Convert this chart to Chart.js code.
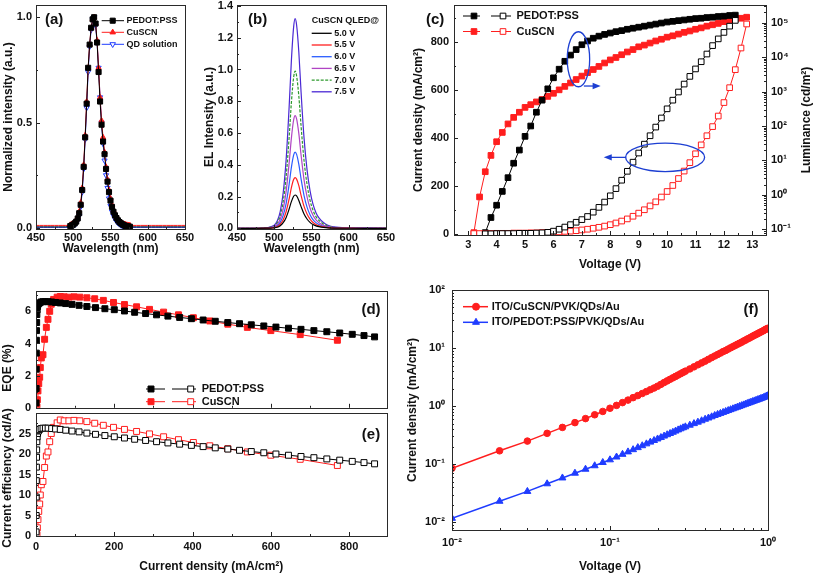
<!DOCTYPE html>
<html><head><meta charset="utf-8">
<script src="https://cdn.jsdelivr.net/npm/chart.js@4.4.1/dist/chart.umd.min.js"></script>
<style>html,body{margin:0;padding:0;background:#fff;width:813px;height:577px;overflow:hidden;position:relative}canvas{position:absolute}</style>
</head><body>
<script>
// ================= DATA =================
// (a) normalized PL/EL spectra
const wlA = [450,455,460,465,470,475,480,485,490,
 492,494,496,498,500,502,504,506,508,510,512,514,516,518,520,522,524,526,528,530,532,534,536,538,540,542,544,546,548,550,552,554,556,558,560,562,564,566,568,570,572,574,576,578,580,
 585,590,595,600,605,610,615,620,625,630,635,640,645,650];
const pedotA = [0.005,0.005,0.005,0.005,0.005,0.005,0.005,0.005,0.005,
 0.006,0.007,0.009,0.012,0.016,0.022,0.03,0.045,0.07,0.11,0.18,0.29,0.43,0.59,0.76,0.87,0.95,0.99,1.0,0.97,0.88,0.74,0.60,0.49,0.41,0.35,0.28,0.22,0.17,0.13,0.10,0.077,0.06,0.047,0.036,0.028,0.022,0.017,0.013,0.01,0.008,0.007,0.006,0.006,0.005,
 0.005,0.005,0.005,0.005,0.005,0.005,0.005,0.005,0.005,0.005,0.005,0.005,0.005,0.005];
const cuscnA = [0.012,0.012,0.012,0.012,0.012,0.012,0.012,0.012,0.012,
 0.012,0.013,0.015,0.018,0.022,0.028,0.037,0.052,0.078,0.12,0.19,0.30,0.44,0.60,0.76,0.87,0.95,0.99,1.0,0.97,0.89,0.76,0.62,0.51,0.43,0.36,0.29,0.23,0.18,0.14,0.11,0.085,0.067,0.053,0.042,0.034,0.028,0.023,0.019,0.017,0.015,0.014,0.013,0.013,0.012,
 0.012,0.012,0.012,0.012,0.012,0.012,0.012,0.012,0.012,0.012,0.012,0.012,0.012,0.012];
const qdA = [0.003,0.003,0.003,0.003,0.003,0.003,0.003,0.003,0.003,
 0.003,0.004,0.005,0.007,0.01,0.015,0.022,0.035,0.058,0.1,0.17,0.28,0.42,0.57,0.74,0.86,0.94,0.99,1.0,0.96,0.88,0.76,0.62,0.5,0.40,0.32,0.25,0.19,0.14,0.105,0.078,0.058,0.043,0.032,0.024,0.018,0.013,0.01,0.008,0.006,0.005,0.004,0.004,0.003,0.003,
 0.003,0.003,0.003,0.003,0.003,0.003,0.003,0.003,0.003,0.003,0.003,0.003,0.003,0.003];

// (b) EL spectra of CuSCN QLED at several voltages
const wlB = [450,470,490,496,500,504,508,512,516,520,523,526,528,530,533,536,540,544,548,552,556,560,566,572,580,600,625,650];
const voltLabelsB = ['5.0 V','5.5 V','6.0 V','6.5 V','7.0 V','7.5 V'];
const el50 = [0,0,0.001,0.002,0.003,0.007,0.017,0.036,0.069,0.122,0.168,0.202,0.21,0.204,0.176,0.137,0.09,0.059,0.038,0.024,0.016,0.011,0.006,0.003,0.0015,0.0006,0.0004,0.0002];
const el55 = [0,0,0.001,0.003,0.005,0.011,0.026,0.054,0.106,0.186,0.256,0.307,0.32,0.31,0.269,0.208,0.138,0.09,0.058,0.037,0.024,0.016,0.009,0.005,0.002,0.001,0.0006,0.0003];
const el60 = [0,0,0.0015,0.004,0.007,0.017,0.038,0.082,0.158,0.278,0.384,0.461,0.48,0.466,0.403,0.312,0.206,0.134,0.086,0.055,0.036,0.024,0.013,0.007,0.003,0.0015,0.001,0.0005];
const el65 = [0,0,0.002,0.006,0.011,0.025,0.057,0.121,0.234,0.412,0.568,0.682,0.71,0.689,0.596,0.462,0.305,0.199,0.128,0.082,0.053,0.036,0.02,0.011,0.005,0.002,0.0015,0.0007];
const el70 = [0,0,0.003,0.008,0.015,0.035,0.079,0.168,0.327,0.574,0.792,0.95,0.99,0.96,0.832,0.644,0.426,0.277,0.178,0.114,0.074,0.05,0.028,0.015,0.007,0.003,0.002,0.001];
const el75 = [0,0,0.004,0.011,0.02,0.046,0.106,0.224,0.436,0.766,1.056,1.267,1.32,1.28,1.109,0.858,0.568,0.37,0.238,0.152,0.099,0.066,0.037,0.02,0.009,0.004,0.003,0.001];

// (c) J-V-L
const vPedot = [3.6,3.8,4.0,4.2,4.4,4.6,4.8,5.0,5.2,5.4,5.6,5.8,6.0,6.2,6.4,6.6,6.8,7.0,7.2,7.4,7.6,7.8,8.0,8.2,8.4,8.6,8.8,9.0,9.2,9.4,9.6,9.8,10.0,10.2,10.4,10.6,10.8,11.0,11.2,11.4,11.6,11.8,12.0,12.2,12.4];
const jPedot = [2,2,3,3,3,3,4,4,4,5,6,8,13,21,30,40,50,61,74,92,112,134,160,190,225,262,300,338,375,410,446,484,522,558,592,625,657,688,718,750,785,813,840,866,890];
const lPedot = [0.08,0.22,0.5,1.26,3.16,8.3,20,50,100,251,562,1202,2512,4467,7586,11480,16600,22910,29510,35480,40740,45710,50120,54950,58880,64570,69180,74130,79430,85110,91200,97720,104700,109600,114800,120200,125900,131800,134900,141300,144500,151400,154900,162200,166000];
const vCuscn = [3.2,3.4,3.6,3.8,4.0,4.2,4.4,4.6,4.8,5.0,5.2,5.4,5.6,5.8,6.0,6.2,6.4,6.6,6.8,7.0,7.2,7.4,7.6,7.8,8.0,8.2,8.4,8.6,8.8,9.0,9.2,9.4,9.6,9.8,10.0,10.2,10.4,10.6,10.8,11.0,11.2,11.4,11.6,11.8,12.0,12.2,12.4,12.6,12.8];
const jCuscn = [3,3,3,3,4,4,4,5,5,5,6,6,7,8,9,10,12,13,15,18,21,25,29,34,40,47,55,64,75,88,102,118,135,155,178,203,232,263,298,335,372,410,448,492,548,610,685,775,875];
const lCuscn = [0.08,0.87,4.7,14,35,65,115,178,251,347,417,501,589,724,891,1122,1413,1778,2239,2818,3548,4365,5370,6761,8318,9772,11750,14130,16600,19950,22390,25700,29510,33110,38020,41690,46770,52480,57540,64570,70790,79430,87100,95500,107200,117500,125900,134900,144500];

// (d)/(e) EQE and current efficiency vs current density
const jEffPedot = [0.2,0.4,0.6,0.8,1.0,1.3,1.7,2.2,3,4,6,9,13,18,24,31,40,50,62,76,92,110,130,152,176,200,226,252,280,308,337,367,397,427,458,490,520,550,582,613,645,677,710,743,776,808,838,865];
const eqePedot = [0.3,1.2,2.4,3.4,4.2,4.8,5.3,5.8,6.1,6.3,6.45,6.52,6.58,6.6,6.6,6.6,6.58,6.55,6.52,6.48,6.43,6.37,6.3,6.23,6.16,6.1,6.02,5.94,5.86,5.78,5.7,5.62,5.54,5.46,5.38,5.3,5.23,5.16,5.09,5.02,4.95,4.88,4.8,4.73,4.65,4.57,4.49,4.41];
const cePedot = [1,5,9.5,13.5,16.8,19.2,21,23,24.2,25,25.6,26,26.2,26.3,26.3,26.3,26.2,26.1,26.0,25.8,25.6,25.4,25.1,24.8,24.5,24.2,23.9,23.6,23.3,23.0,22.7,22.4,22.1,21.8,21.5,21.2,20.9,20.6,20.3,20.0,19.7,19.4,19.1,18.8,18.5,18.2,17.9,17.6];
const jEffCuscn = [2.5,3.5,5,7,9.4,11,13.6,17.8,22,26.4,30.6,35,39,45,54,62,72,84,97,112,130,150,172,198,226,257,290,326,364,402,444,490,540,600,675,770];
const eqeCuscn = [0.06,0.5,1.05,1.5,1.9,2.5,3.1,3.3,4.26,5.0,5.5,6.0,6.44,6.74,6.88,6.92,6.9,6.88,6.9,6.88,6.84,6.78,6.68,6.55,6.42,6.28,6.12,5.95,5.78,5.6,5.4,5.2,5.0,4.8,4.55,4.2];
const ceCuscn = [0.3,2,4,6,7.8,10,12.5,13.3,16.7,19.5,20.5,23,25,26.5,27.6,28.3,28.1,28.1,28.2,28.1,27.9,27.5,27.0,26.5,26.0,25.5,24.9,24.2,23.5,22.8,22.0,21.3,20.5,19.7,18.7,17.2];

// (f) hole-only devices J-V (log-log)
const vF = [0.01,0.02,0.03,0.04,0.05,0.06,0.07,0.08,0.09,0.10,0.11,0.12,0.13,0.14,0.15,0.16,0.17,0.18,0.19,0.20,0.21,0.22,0.23,0.24,0.25,0.26,0.27,0.28,0.29,0.30,
 0.32,0.34,0.36,0.38,0.40,0.42,0.44,0.46,0.48,0.50,0.52,0.54,0.56,0.58,0.60,0.62,0.64,0.66,0.68,0.70,0.72,0.74,0.76,0.78,0.80,0.82,0.84,0.86,0.88,0.90,0.92,0.94,0.96,0.98,1.00];
const jF_cuscn = [0.085,0.17,0.25,0.34,0.43,0.52,0.61,0.71,0.81,0.92,1.03,1.15,1.27,1.40,1.52,1.65,1.78,1.92,2.05,2.2,2.37,2.55,2.72,2.9,3.07,3.25,3.43,3.62,3.81,4.0,
 4.37,4.75,5.15,5.55,5.95,6.4,6.85,7.3,7.75,8.2,8.7,9.1,9.6,10.1,10.6,11.1,11.6,12.1,12.6,13.2,13.7,14.3,14.8,15.4,16.0,16.6,17.1,17.7,18.3,18.9,19.5,20.1,20.8,21.4,22.0];
const jF_pedot = [0.0117,0.023,0.034,0.046,0.058,0.07,0.082,0.094,0.107,0.119,0.133,0.148,0.163,0.178,0.193,0.208,0.224,0.24,0.256,0.272,0.288,0.305,0.322,0.338,0.355,0.372,0.39,0.407,0.424,0.44,
 0.47,0.5,0.53,0.56,0.595,0.625,0.655,0.69,0.72,0.75,0.78,0.81,0.84,0.87,0.9,0.93,0.96,0.99,1.02,1.05,1.08,1.11,1.14,1.17,1.2,1.23,1.26,1.29,1.32,1.35,1.38,1.41,1.45,1.49,1.52];

// ================= HELPERS =================
const FONT = "'Liberation Sans', Arial, Helvetica, sans-serif";
Chart.defaults.font.family = FONT;
Chart.defaults.font.weight = 'bold';
Chart.defaults.color = '#111';
const RED = '#ff1e1e', BLUE = '#1f3cff', INK = '#111';
const SUP = {'0':'⁰','1':'¹','2':'²','3':'³','4':'⁴','5':'⁵','6':'⁶','7':'⁷','8':'⁸','9':'⁹','-':'⁻'};
const pow10 = v => { const e = Math.log10(v), r = Math.round(e); return Math.abs(e - r) < 1e-6 ? '10' + String(r).split('').map(c => SUP[c]).join('') : null; };

function mkCanvas(l, t, w, h) {
  const c = document.createElement('canvas');
  c.width = w; c.height = h;
  c.style.left = l + 'px'; c.style.top = t + 'px'; c.style.width = w + 'px'; c.style.height = h + 'px';
  document.body.appendChild(c);
  return c;
}
function pts(xs, ys) { return xs.map((x, i) => ({x, y: ys[i]})); }
function ds(xs, ys, color, style, fill, radius, extra) {
  return Object.assign({
    data: pts(xs, ys), borderColor: color, backgroundColor: fill, pointStyle: style,
    pointRadius: radius, pointBorderColor: color, pointBackgroundColor: fill, pointBorderWidth: 1,
    borderWidth: 1, tension: 0, pointHoverRadius: 0, fill: false
  }, extra || {});
}
function axis(o) {
  const s = {
    type: o.type || 'linear', position: o.pos, min: o.min, max: o.max, display: o.display !== false,
    grid: {display: false, drawTicks: false}, border: {display: false},
    ticks: {stepSize: o.step, includeBounds: false, autoSkip: false, maxTicksLimit: 40, padding: o.pad, maxRotation: 0, minRotation: 0,
      font: {size: 11, weight: 'bold'}, color: INK, callback: o.fmt},
    title: o.title ? {display: true, text: o.title, font: {size: 12, weight: 'bold'}, color: INK, padding: o.tpad} : {display: false}
  };
  if (!o.fmt) delete s.ticks.callback;
  if (o.h !== undefined) s.afterFit = sc => { sc.height = o.h; sc.paddingLeft = 0; sc.paddingRight = 0; };
  if (o.w !== undefined) s.afterFit = sc => { sc.width = o.w; sc.paddingTop = 0; sc.paddingBottom = 0; };
  return s;
}
function opts(padding, scales) {
  return {responsive: false, animation: false, devicePixelRatio: 1, events: [], layout: {padding},
    plugins: {legend: {display: false}, tooltip: {enabled: false}}, scales};
}
function marker(ctx, style, x, y, r, stroke, fill) {
  ctx.save(); ctx.beginPath();
  if (style === 'rect') { const s = r * Math.SQRT1_2; ctx.rect(x - s, y - s, 2 * s, 2 * s); }
  else if (style === 'circle') { ctx.arc(x, y, r, 0, Math.PI * 2); }
  else { const d = style === 'tridown' ? Math.PI : 0; let a = d;
    ctx.moveTo(x + Math.sin(a) * r, y - Math.cos(a) * r); a += 2 * Math.PI / 3;
    ctx.lineTo(x + Math.sin(a) * r, y - Math.cos(a) * r); a += 2 * Math.PI / 3;
    ctx.lineTo(x + Math.sin(a) * r, y - Math.cos(a) * r); ctx.closePath(); }
  ctx.fillStyle = fill; ctx.fill(); ctx.lineWidth = 1; ctx.strokeStyle = stroke; ctx.stroke(); ctx.restore();
}
function drawTicks(chart, scale, side, minorDiv, isLog) {
  const ctx = chart.ctx, a = chart.chartArea, vals = [];
  if (isLog) {
    const e0 = Math.floor(Math.log10(scale.min)), e1 = Math.ceil(Math.log10(scale.max));
    for (let e = e0; e <= e1; e++) for (let m = 1; m <= 9; m++) { const v = m * Math.pow(10, e); if (v >= scale.min && v <= scale.max) vals.push([v, m === 1]); }
  } else {
    const t = scale.ticks.map(k => k.value);
    const step = t.length > 1 ? t[1] - t[0] : 1;
    t.forEach(v => vals.push([v, true]));
    if (minorDiv > 1) { const ms = step / minorDiv;
      for (let v = t[0] - step; v <= scale.max; v += ms)
        if (v >= scale.min && v <= scale.max && !t.some(u => Math.abs(u - v) < ms / 10)) vals.push([v, false]); }
  }
  ctx.save(); ctx.strokeStyle = '#222'; ctx.lineWidth = 1;
  vals.forEach(([v, maj]) => {
    const p = Math.round(scale.getPixelForValue(v)) + 0.5, L = maj ? 4 : 2;
    ctx.beginPath();
    if (side === 'bottom') { ctx.moveTo(p, a.bottom); ctx.lineTo(p, a.bottom - L); }
    else if (side === 'left') { ctx.moveTo(a.left, p); ctx.lineTo(a.left + L, p); }
    else if (side === 'right') { ctx.moveTo(a.right, p); ctx.lineTo(a.right - L, p); }
    ctx.stroke();
  });
  ctx.restore();
}
function drawText(ctx, t) {
  ctx.save(); ctx.translate(t.x, t.y); if (t.rot) ctx.rotate(t.rot * Math.PI / 180);
  ctx.font = `bold ${t.size || 12}px ${FONT}`; ctx.fillStyle = t.color || INK;
  ctx.textAlign = t.align || 'left'; ctx.textBaseline = 'middle'; ctx.fillText(t.t, 0, 0); ctx.restore();
}
function deco(cfg) {
  return {
    id: 'deco',
    afterDraw(chart) {
      const ctx = chart.ctx, a = chart.chartArea;
      (cfg.ticks || []).forEach(t => drawTicks(chart, chart.scales[t.id], t.side, t.minor, t.log));
      ctx.save(); ctx.strokeStyle = '#2a2a2a'; ctx.lineWidth = 1;
      const L = Math.round(a.left), T = Math.round(a.top), R = Math.round(a.right), B = Math.round(a.bottom);
      ctx.strokeRect(L + 0.5, T + 0.5, R - L, B - T); ctx.restore();
      (cfg.legend || []).forEach(e => {
        ctx.save(); ctx.strokeStyle = e.color; ctx.lineWidth = e.lw || 1; if (e.dash) ctx.setLineDash(e.dash);
        e.lines.forEach(([x1, x2]) => { ctx.beginPath(); ctx.moveTo(x1, e.y); ctx.lineTo(x2, e.y); ctx.stroke(); });
        ctx.restore();
        (e.markers || []).forEach(m => marker(ctx, m[1], m[0], e.y, e.r || 3.5, e.color, m[2]));
        drawText(ctx, {t: e.text, x: e.tx, y: e.y, size: e.size || 11});
      });
      (cfg.texts || []).forEach(t => drawText(ctx, t));
      if (cfg.draw) cfg.draw(chart, ctx);
    }
  };
}

// ================= (a) =================
const rA = c => (c.raw && c.raw.x >= 496 && c.raw.x <= 576) ? 3 : 0;
new Chart(mkCanvas(0, 0, 200, 262), {
  type: 'line',
  data: {datasets: [
    ds(wlA, pedotA, '#000', 'rect', '#000', c => rA(c) ? 3.6 : 0),
    ds(wlA, cuscnA, RED, 'triangle', RED, rA),
    ds(wlA, qdA, BLUE, 'triangle', '#fff', rA, {pointRotation: 180})
  ]},
  options: opts({left: 0, top: 5, right: 15, bottom: 0}, {
    x: axis({pos: 'bottom', min: 450, max: 650, step: 50, h: 33, pad: 2, title: 'Wavelength (nm)', tpad: {top: 0, bottom: 5.8}}),
    y: axis({pos: 'left', min: -0.005, max: 1.058, step: 0.5, w: 36, pad: 4, fmt: v => v.toFixed(1), title: 'Normalized intensity (a.u.)', tpad: {top: 1, bottom: 0}})
  }),
  plugins: [deco({
    ticks: [{id: 'x', side: 'bottom', minor: 2}, {id: 'y', side: 'left', minor: 2}],
    texts: [{t: '(a)', x: 45, y: 20, size: 15}],
    legend: [
      {y: 20.7, lines: [[101.7, 124]], color: '#000', markers: [[112.7, 'rect', '#000']], r: 3.6, text: 'PEDOT:PSS', tx: 126.5, size: 9},
      {y: 32.3, lines: [[101.7, 124]], color: RED, markers: [[112.7, 'tri', RED]], r: 3.2, text: 'CuSCN', tx: 126.5, size: 9},
      {y: 44.3, lines: [[101.7, 124]], color: BLUE, markers: [[112.7, 'tridown', '#fff']], r: 3.2, text: 'QD solution', tx: 126.5, size: 9}
    ]
  })]
});

// ================= (b) =================
const colB = ['#000000', '#ff2020', '#2a5cff', '#b044c4', '#2e9a2e', '#4a28d4'];
const seriesB = [el50, el55, el60, el65, el70, el75];
new Chart(mkCanvas(200, 0, 200, 262), {
  type: 'line',
  data: {datasets: seriesB.map((s, i) => ds(wlB, s, colB[i], 'circle', colB[i], 0,
    {borderWidth: 1.2, cubicInterpolationMode: 'monotone', borderDash: i === 4 ? [3, 1.5] : []}))},
  options: opts({left: 0, top: 5, right: 14, bottom: 0}, {
    x: axis({pos: 'bottom', min: 450, max: 650, step: 50, h: 33, pad: 2, title: 'Wavelength (nm)', tpad: {top: 0, bottom: 5.8}}),
    y: axis({pos: 'left', min: -0.004, max: 1.406, step: 0.2, w: 37, pad: 4, fmt: v => v.toFixed(1), title: 'EL Intensity (a.u.)', tpad: {top: 2, bottom: 0}})
  }),
  plugins: [deco({
    ticks: [{id: 'x', side: 'bottom', minor: 2}, {id: 'y', side: 'left', minor: 2}],
    texts: [{t: '(b)', x: 48, y: 20, size: 15}, {t: 'CuSCN QLED@', x: 111.7, y: 21, size: 9}],
    legend: voltLabelsB.map((t, i) => ({y: 33.3 + i * 11.7, lines: [[111.7, 131.7]], color: colB[i], lw: 1.3,
      dash: i === 4 ? [3, 1.5] : null, text: t, tx: 134.3, size: 9}))
  })]
});

// ================= (c) =================
const ANN = {e1: [6.88, 8700], e2: [9.93, 320], a1: [7.07, 7.66, 1450], a2: [8.56, 7.77, 320]};
function arrow(ctx, x1, y1, x2, y2) {
  const ang = Math.atan2(y2 - y1, x2 - x1), L = 8, W = 3.2;
  ctx.beginPath(); ctx.moveTo(x1, y1); ctx.lineTo(x2 - Math.cos(ang) * L * 0.8, y2 - Math.sin(ang) * L * 0.8); ctx.stroke();
  ctx.beginPath(); ctx.moveTo(x2, y2);
  ctx.lineTo(x2 - Math.cos(ang) * L - Math.sin(ang) * W, y2 - Math.sin(ang) * L + Math.cos(ang) * W);
  ctx.lineTo(x2 - Math.cos(ang) * L + Math.sin(ang) * W, y2 - Math.sin(ang) * L - Math.cos(ang) * W);
  ctx.closePath(); ctx.fill();
}
new Chart(mkCanvas(400, 0, 413, 280), {
  type: 'line',
  data: {datasets: [
    ds(vPedot, jPedot, '#000', 'rect', '#fff', 4, {yAxisID: 'y'}),
    ds(vCuscn, jCuscn, RED, 'rect', '#fff', 4, {yAxisID: 'y'}),
    ds(vPedot, lPedot, '#000', 'rect', '#000', 4, {yAxisID: 'y2'}),
    ds(vCuscn, lCuscn, RED, 'rect', RED, 4, {yAxisID: 'y2'})
  ]},
  options: opts({left: 0, top: 5, right: 0, bottom: 0}, {
    x: axis({pos: 'bottom', min: 2.5, max: 13.48, step: 1, h: 45, pad: 3.5, title: 'Voltage (V)', tpad: {top: 0, bottom: 7.8}}),
    y: axis({pos: 'left', min: -3, max: 954, step: 200, w: 54, pad: 5, title: 'Current density (mA/cm²)', tpad: {top: 11, bottom: 0}}),
    y2: axis({type: 'logarithmic', pos: 'right', min: 0.0683, max: 327000, w: 47, pad: 5, fmt: pow10})
  }),
  plugins: [deco({
    ticks: [{id: 'x', side: 'bottom', minor: 2}, {id: 'y', side: 'left', minor: 2}, {id: 'y2', side: 'right', log: true}],
    texts: [{t: '(c)', x: 26, y: 20, size: 15}, {t: 'Luminance (cd/m²)', x: 406.5, y: 120, rot: -90, align: 'center', size: 12}],
    legend: [
      {y: 16, lines: [[63, 80], [91, 111]], color: '#000', markers: [[74, 'rect', '#000'], [103, 'rect', '#fff']], r: 4, text: 'PEDOT:PSS', tx: 116.5, size: 11},
      {y: 31.5, lines: [[63, 80], [91, 111]], color: RED, markers: [[74, 'rect', RED], [103, 'rect', '#fff']], r: 4, text: 'CuSCN', tx: 116.5, size: 11}
    ],
    draw(chart, ctx) {
      const x = chart.scales.x, y = chart.scales.y, y2 = chart.scales.y2;
      ctx.save(); ctx.strokeStyle = '#1d3fd2'; ctx.fillStyle = '#1d3fd2'; ctx.lineWidth = 1.3;
      ctx.beginPath(); ctx.ellipse(x.getPixelForValue(ANN.e1[0]), y2.getPixelForValue(ANN.e1[1]), 11.2, 27.5, 0, 0, Math.PI * 2); ctx.stroke();
      ctx.beginPath(); ctx.ellipse(x.getPixelForValue(ANN.e2[0]), y.getPixelForValue(ANN.e2[1]), 39.5, 14.2, 0, 0, Math.PI * 2); ctx.stroke();
      arrow(ctx, x.getPixelForValue(ANN.a1[0]), y2.getPixelForValue(ANN.a1[2]), x.getPixelForValue(ANN.a1[1]), y2.getPixelForValue(ANN.a1[2]));
      arrow(ctx, x.getPixelForValue(ANN.a2[0]), y.getPixelForValue(ANN.a2[2]), x.getPixelForValue(ANN.a2[1]), y.getPixelForValue(ANN.a2[2]));
      ctx.restore();
    }
  })]
});

// ================= (d) =================
new Chart(mkCanvas(0, 286, 400, 127), {
  type: 'line',
  data: {datasets: [
    ds(jEffPedot, eqePedot, '#000', 'rect', '#000', 4.2),
    ds(jEffCuscn, eqeCuscn, RED, 'rect', RED, 4.2)
  ]},
  options: opts({left: 0, top: 5, right: 13.3, bottom: 0}, {
    x: axis({pos: 'bottom', min: 0, max: 896, step: 200, display: false}),
    y: axis({pos: 'left', min: 0, max: 7.25, step: 2, w: 36, pad: 5})
  }),
  plugins: [deco({
    ticks: [{id: 'x', side: 'bottom', minor: 2}, {id: 'y', side: 'left', minor: 2}],
    texts: [{t: '(d)', x: 371, y: 24, size: 15, align: 'center'}, {t: 'EQE (%)', x: 7.5, y: 82, rot: -90, align: 'center', size: 12}],
    legend: [
      {y: 103, lines: [[146, 165], [172, 196]], color: '#000', markers: [[151, 'rect', '#000'], [190.7, 'rect', '#fff']], r: 4.2, text: 'PEDOT:PSS', tx: 201.7, size: 11},
      {y: 115.7, lines: [[146, 165], [172, 196]], color: RED, markers: [[151, 'rect', RED], [190.7, 'rect', '#fff']], r: 4.2, text: 'CuSCN', tx: 201.7, size: 11}
    ]
  })]
});

// ================= (e) =================
new Chart(mkCanvas(0, 408, 400, 169), {
  type: 'line',
  data: {datasets: [
    ds(jEffPedot, cePedot, '#000', 'rect', '#fff', 4.2),
    ds(jEffCuscn, ceCuscn, RED, 'rect', '#fff', 4.2)
  ]},
  options: opts({left: 0, top: 5, right: 13.3, bottom: 0}, {
    x: axis({pos: 'bottom', min: 0, max: 896, step: 200, h: 41, pad: 4, title: 'Current density (mA/cm²)', tpad: {top: 0, bottom: 3}}),
    y: axis({pos: 'left', min: 0, max: 29.95, step: 5, w: 36, pad: 5})
  }),
  plugins: [deco({
    ticks: [{id: 'x', side: 'bottom', minor: 2}, {id: 'y', side: 'left', minor: 2}],
    texts: [{t: '(e)', x: 371, y: 27, size: 15, align: 'center'}, {t: 'Current efficiency (cd/A)', x: 7.5, y: 70, rot: -90, align: 'center', size: 12}]
  })]
});

// ================= (f) =================
new Chart(mkCanvas(400, 280, 413, 297), {
  type: 'line',
  data: {datasets: [
    ds(vF, jF_cuscn, RED, 'circle', RED, 3.3, {borderWidth: 1.5}),
    ds(vF, jF_pedot, BLUE, 'triangle', BLUE, 4, {borderWidth: 1.5})
  ]},
  options: opts({left: 0, top: 10, right: 45, bottom: 0}, {
    x: axis({type: 'logarithmic', pos: 'bottom', min: 0.01, max: 1, h: 47, pad: 6, fmt: pow10, title: 'Voltage (V)', tpad: {top: 0, bottom: 3}}),
    y: axis({type: 'logarithmic', pos: 'left', min: 0.00736, max: 100, w: 52, pad: 7, fmt: pow10, title: 'Current density (mA/cm²)', tpad: {top: 5.5, bottom: 0}})
  }),
  plugins: [deco({
    ticks: [{id: 'x', side: 'bottom', log: true}, {id: 'y', side: 'left', log: true}],
    texts: [{t: '(f)', x: 351, y: 30, size: 15, align: 'center'}],
    legend: [
      {y: 26.7, lines: [[63, 88]], color: RED, lw: 1.5, markers: [[76, 'circle', RED]], r: 3.5, text: 'ITO/CuSCN/PVK/QDs/Au', tx: 91.7, size: 11},
      {y: 42.3, lines: [[63, 88]], color: BLUE, lw: 1.5, markers: [[76, 'tri', BLUE]], r: 4, text: 'ITO/PEDOT:PSS/PVK/QDs/Au', tx: 91.7, size: 11}
    ]
  })]
});
</script>
</body></html>
